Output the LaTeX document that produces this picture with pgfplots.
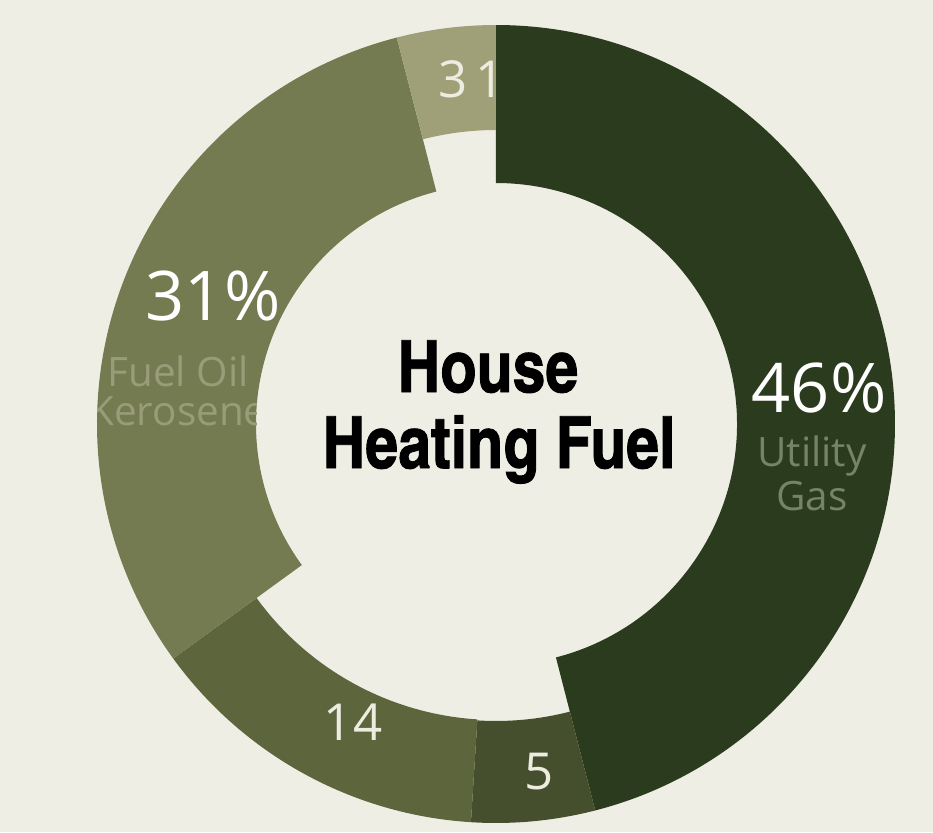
\documentclass[border=0pt]{standalone}
\usepackage{pgfplots}
\pgfplotsset{compat=1.18}
\usepackage{fontspec}
\setmainfont{Open Sans}
\newfontfamily\cond[FakeBold=1.2]{texgyreheroscn-bold.otf}
\definecolor{bg}{RGB}{239,238,229}
\definecolor{cGas}{RGB}{43,60,30}
\definecolor{cFive}{RGB}{70,79,45}
\definecolor{cFourteen}{RGB}{93,101,61}
\definecolor{cOil}{RGB}{117,123,81}
\definecolor{cOther}{RGB}{160,160,120}
\definecolor{lGas}{RGB}{118,132,102}
\definecolor{lOil}{RGB}{152,156,120}
\definecolor{lNum}{RGB}{236,236,225}
% segment: start angle, end angle, inner radius (px units, outer radius 399)
\newcommand\seg[3]{(axis cs:{496+399*cos(#1)},{408+399*sin(#1)}) arc[start angle=#1, end angle=#2, radius=39.9mm] -- (axis cs:{496+#3*cos(#2)},{408+#3*sin(#2)}) arc[start angle=#2, end angle=#1, radius=#3*0.1mm] -- cycle}
\begin{document}
\begin{tikzpicture}
\begin{axis}[width=9.33cm, height=8.32cm, scale only axis,
  xmin=0, xmax=933, ymin=0, ymax=832, hide axis, clip=false]
\pgfplotsextra{
  \fill[bg] (axis cs:0,0) rectangle (axis cs:933,832);
  \gdef\curang{90}
  % value / inner radius / colour
  \foreach \v/\ri/\col in {46/241/cGas, 5/297/cFive, 14/296/cFourteen, 31/240/cOil, 4/294/cOther} {
    \pgfmathsetmacro\s{\curang}
    \pgfmathsetmacro\e{\curang-3.6*\v}
    \xdef\curang{\e}
    \fill[\col] \seg{\s}{\e}{\ri};
  }
  % labels in the 31% segment, clipped to it
  \begin{scope}
    \clip \seg{-144}{-255.6}{240};
    \node[anchor=base, text=white, font=\fontsize{19.5}{20}\selectfont] at (axis cs:213,512) {31\%};
    \node[anchor=base, text=lOil, font=\fontsize{11.5}{12}\selectfont] at (axis cs:178,446) {Fuel Oil};
    \node[anchor=base, text=lOil, font=\fontsize{11.5}{12}\selectfont] at (axis cs:178,407) {Kerosene};
  \end{scope}
  \begin{scope}
    \clip \seg{-255.6}{-270}{294};
    \node[anchor=base west, inner sep=0pt, text=lNum, font=\fontsize{14.5}{15}\selectfont] at (axis cs:438,735) {3\kern2.2pt1};
  \end{scope}
  \node[anchor=base, text=white, font=\fontsize{19.5}{20}\selectfont] at (axis cs:819,420) {46\%};
  \node[anchor=base, text=lGas, font=\fontsize{11.5}{12}\selectfont] at (axis cs:812,366) {Utility};
  \node[anchor=base, text=lGas, font=\fontsize{11.5}{12}\selectfont] at (axis cs:812,322) {Gas};
  \node[anchor=base, text=lNum, font=\fontsize{14.5}{15}\selectfont] at (axis cs:353,92) {14};
  \node[anchor=base, text=lNum, font=\fontsize{14.5}{15}\selectfont] at (axis cs:539,43) {5};
  \node[anchor=base, text=black, font=\cond\fontsize{20.5}{21}\selectfont] at (axis cs:488,440) {House};
  \node[anchor=base, text=black, font=\cond\fontsize{20.5}{21}\selectfont] at (axis cs:499,364) {Heating Fuel};
}
\end{axis}
\end{tikzpicture}
\end{document}
